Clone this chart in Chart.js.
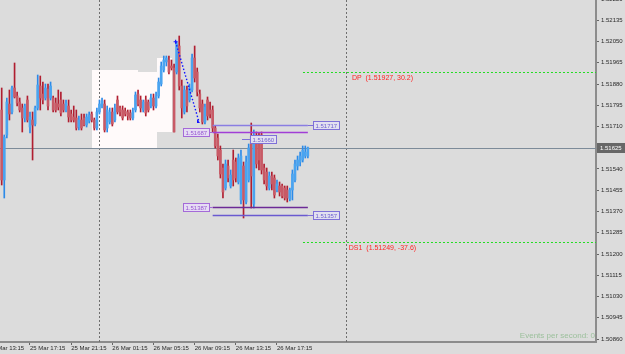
<!DOCTYPE html>
<html>
<head>
<meta charset="utf-8">
<script src="https://cdn.jsdelivr.net/npm/chart.js@4.4.1/dist/chart.umd.min.js"></script>
<style>
	html, body { margin: 0; padding: 0; background: #dcdcdc; }
	#chart { display: block; }
</style>
</head>
<body>
<canvas id="chart" width="625" height="354"></canvas>
<script>
(function () {
	'use strict';

	// M15 bars, bar 0 = 25 Mar 14:30
	const opens = [
		1.51776, 1.51496, 1.51676, 1.51800, 1.51768, 1.51864, 1.51832, 1.51808, 1.51784, 1.51744,
		1.51816, 1.51708, 1.51736, 1.51720, 1.51784, 1.51872, 1.51840, 1.51824, 1.51860, 1.51824,
		1.51824, 1.51804, 1.51800, 1.51816, 1.51800, 1.51772, 1.51792, 1.51760, 1.51748, 1.51744,
		1.51708, 1.51736, 1.51744, 1.51716, 1.51732, 1.51760, 1.51736, 1.51704, 1.51768, 1.51792,
		1.51800, 1.51704, 1.51728, 1.51768, 1.51736, 1.51816, 1.51784, 1.51776, 1.51772, 1.51768,
		1.51764, 1.51744, 1.51776, 1.51840, 1.51816, 1.51776, 1.51816, 1.51808, 1.51792, 1.51824,
		1.51792, 1.51832, 1.51880, 1.51936, 1.51968, 1.51976, 1.51952, 1.51944, 1.51928, 1.52032,
		1.51872, 1.51768, 1.51856, 1.51816, 1.51856, 1.51984, 1.51928, 1.51840, 1.51800, 1.51728,
		1.51816, 1.51776, 1.51776, 1.51704, 1.51664, 1.51616, 1.51544, 1.51464, 1.51552, 1.51472,
		1.51576, 1.51568, 1.51488, 1.51416, 1.51552, 1.51408, 1.51496, 1.51672, 1.51400, 1.51656,
		1.51648, 1.51676, 1.51544, 1.51528, 1.51464, 1.51512, 1.51504, 1.51456, 1.51472, 1.51472,
		1.51464, 1.51456, 1.51420, 1.51456, 1.51496, 1.51552, 1.51568, 1.51576, 1.51592, 1.51592
	];
	const highs = [
		1.51864, 1.51676, 1.51824, 1.51856, 1.51872, 1.51964, 1.51848, 1.51824, 1.51800, 1.51800,
		1.51832, 1.51768, 1.51768, 1.51792, 1.51916, 1.51912, 1.51888, 1.51880, 1.51880, 1.51888,
		1.51832, 1.51824, 1.51856, 1.51848, 1.51816, 1.51816, 1.51816, 1.51776, 1.51792, 1.51776,
		1.51752, 1.51760, 1.51760, 1.51760, 1.51768, 1.51768, 1.51744, 1.51784, 1.51816, 1.51824,
		1.51816, 1.51792, 1.51784, 1.51784, 1.51800, 1.51832, 1.51792, 1.51792, 1.51784, 1.51776,
		1.51776, 1.51784, 1.51848, 1.51856, 1.51832, 1.51816, 1.51832, 1.51816, 1.51840, 1.51840,
		1.51848, 1.51904, 1.51968, 1.51992, 1.51992, 1.51992, 1.51976, 1.51960, 1.52048, 1.52072,
		1.51896, 1.51872, 1.51872, 1.51880, 1.52000, 1.52032, 1.51944, 1.51856, 1.51816, 1.51800,
		1.51828, 1.51808, 1.51792, 1.51712, 1.51680, 1.51632, 1.51560, 1.51576, 1.51576, 1.51536,
		1.51616, 1.51584, 1.51600, 1.51616, 1.51568, 1.51592, 1.51640, 1.51724, 1.51696, 1.51688,
		1.51684, 1.51688, 1.51560, 1.51544, 1.51528, 1.51528, 1.51516, 1.51496, 1.51488, 1.51480,
		1.51472, 1.51472, 1.51464, 1.51536, 1.51576, 1.51592, 1.51608, 1.51632, 1.51632, 1.51628
	];
	const lows = [
		1.51476, 1.51424, 1.51664, 1.51736, 1.51760, 1.51824, 1.51792, 1.51768, 1.51688, 1.51728,
		1.51728, 1.51684, 1.51576, 1.51712, 1.51776, 1.51776, 1.51800, 1.51816, 1.51776, 1.51816,
		1.51768, 1.51768, 1.51776, 1.51752, 1.51768, 1.51768, 1.51728, 1.51728, 1.51728, 1.51696,
		1.51696, 1.51696, 1.51712, 1.51708, 1.51724, 1.51728, 1.51696, 1.51696, 1.51760, 1.51784,
		1.51688, 1.51688, 1.51720, 1.51712, 1.51728, 1.51760, 1.51752, 1.51736, 1.51752, 1.51736,
		1.51736, 1.51736, 1.51768, 1.51792, 1.51768, 1.51768, 1.51752, 1.51768, 1.51784, 1.51776,
		1.51784, 1.51824, 1.51872, 1.51928, 1.51952, 1.51920, 1.51936, 1.51688, 1.51920, 1.51856,
		1.51744, 1.51760, 1.51768, 1.51808, 1.51848, 1.51888, 1.51832, 1.51768, 1.51720, 1.51720,
		1.51736, 1.51744, 1.51688, 1.51624, 1.51576, 1.51504, 1.51424, 1.51456, 1.51488, 1.51464,
		1.51472, 1.51488, 1.51480, 1.51400, 1.51344, 1.51400, 1.51488, 1.51384, 1.51384, 1.51544,
		1.51536, 1.51520, 1.51480, 1.51456, 1.51456, 1.51456, 1.51424, 1.51448, 1.51432, 1.51424,
		1.51416, 1.51408, 1.51412, 1.51416, 1.51488, 1.51536, 1.51552, 1.51568, 1.51584, 1.51584
	];
	const closes = [
		1.51496, 1.51668, 1.51808, 1.51760, 1.51864, 1.51828, 1.51804, 1.51776, 1.51744, 1.51792,
		1.51736, 1.51748, 1.51716, 1.51784, 1.51876, 1.51824, 1.51816, 1.51864, 1.51792, 1.51872,
		1.51776, 1.51776, 1.51788, 1.51764, 1.51776, 1.51804, 1.51748, 1.51736, 1.51736, 1.51704,
		1.51736, 1.51704, 1.51716, 1.51748, 1.51756, 1.51736, 1.51704, 1.51768, 1.51800, 1.51812,
		1.51696, 1.51776, 1.51768, 1.51720, 1.51784, 1.51768, 1.51768, 1.51744, 1.51760, 1.51752,
		1.51744, 1.51768, 1.51836, 1.51800, 1.51784, 1.51808, 1.51764, 1.51776, 1.51824, 1.51792,
		1.51832, 1.51888, 1.51952, 1.51976, 1.51984, 1.51928, 1.51944, 1.51688, 1.52040, 1.51872,
		1.51784, 1.51856, 1.51792, 1.51864, 1.51984, 1.51904, 1.51848, 1.51784, 1.51728, 1.51788,
		1.51752, 1.51760, 1.51704, 1.51632, 1.51592, 1.51520, 1.51448, 1.51560, 1.51504, 1.51516,
		1.51496, 1.51504, 1.51584, 1.51592, 1.51416, 1.51568, 1.51624, 1.51512, 1.51664, 1.51560,
		1.51576, 1.51536, 1.51496, 1.51472, 1.51512, 1.51480, 1.51436, 1.51480, 1.51448, 1.51432,
		1.51424, 1.51424, 1.51456, 1.51520, 1.51560, 1.51576, 1.51592, 1.51616, 1.51608, 1.51625
	];

	// axis ticks
	const tickBars = [-5, 11, 27, 43, 59, 75, 91, 107];
	const timeLabels = ['25 Mar 13:15', '25 Mar 17:15', '25 Mar 21:15', '26 Mar 01:15',
		'26 Mar 05:15', '26 Mar 09:15', '26 Mar 13:15', '26 Mar 17:15'];
	const priceTicks = [1.50860, 1.50945, 1.51030, 1.51115, 1.51200, 1.51285, 1.51370, 1.51455,
		1.51540, 1.51625, 1.51710, 1.51795, 1.51880, 1.51965, 1.52050, 1.52135, 1.52220];

	// day separators (bar index)
	const separatorBars = [38, 134];

	// profile box (bar, price)
	const profileBars = [35.1, 53.0, 53.0, 60.4, 60.4, 66.2, 66.2, 60.4, 60.4, 35.1];
	const profilePrices = [1.51936, 1.51936, 1.51928, 1.51928, 1.51984, 1.51984, 1.51688, 1.51688, 1.51624, 1.51624];

	// dotted trend line
	const trendBars = [67.6, 76.7];
	const trendPrices = [1.52049, 1.51728];

	// price levels
	const levelPrices = [1.51717, 1.51687, 1.51387, 1.51357];
	const levelFromBar = 82;
	const levelToBar = 119;
	const markPrice = 1.51660;
	const markBar = 93.4;

	// pivots
	const pivotNames = ['DP', 'DS1'];
	const pivotPrices = [1.51927, 1.51249];
	const pivotScores = [30.2, -37.6];
	const pivotFromBar = 117.1;
	const pivotTextBar = 148;

	const FONT = '"Liberation Sans", Arial, sans-serif';
	Chart.defaults.font.family = FONT;
	Chart.defaults.font.size = 6;

	const isUp = closes.map(function(c, i) { return c >= opens[i]; });

	function drawBox(ctx, text, x, yc, s, alignRight) {
		ctx.font = '6px ' + FONT;
		const w = Math.round(ctx.measureText(text).width) + 5;
		const h = 9;
		const left = Math.round(alignRight ? x - w : x);
		const top = Math.round(yc - h / 2);
		ctx.fillStyle = s.fill;
		ctx.fillRect(left, top, w, h);
		ctx.strokeStyle = s.border;
		ctx.lineWidth = 1;
		ctx.strokeRect(left + 0.5, top + 0.5, w - 1, h - 1);
		ctx.fillStyle = s.text;
		ctx.textAlign = 'left';
		ctx.textBaseline = 'middle';
		ctx.fillText(text, left + 2.5, top + h / 2 + 0.5);
	}

	function hLine(ctx, x0, x1, y, color, width) {
		ctx.strokeStyle = color;
		ctx.lineWidth = width;
		ctx.beginPath();
		ctx.moveTo(x0, y);
		ctx.lineTo(x1, y);
		ctx.stroke();
	}

	const overlay = {
		id: 'overlay',
		beforeDraw: function(chart) {
			const ctx = chart.ctx;
			ctx.save();
			ctx.fillStyle = '#dcdcdc';
			ctx.fillRect(0, 0, chart.width, chart.height);
			ctx.restore();
		},
		beforeDatasetsDraw: function(chart) {
			const ctx = chart.ctx;
			const a = chart.chartArea;
			const x = chart.scales.x;
			const y = chart.scales.y;
			ctx.save();
			ctx.beginPath();
			ctx.rect(a.left, a.top, a.right - a.left, a.bottom - a.top);
			ctx.clip();

			// profile area
			ctx.fillStyle = '#fffafa';
			ctx.beginPath();
			profileBars.forEach(function(b, i) {
				const px = Math.round(x.getPixelForValue(b));
				const py = Math.round(y.getPixelForValue(profilePrices[i]));
				if (i === 0) { ctx.moveTo(px, py); } else { ctx.lineTo(px, py); }
			});
			ctx.closePath();
			ctx.fill();

			// separators
			ctx.strokeStyle = '#6e6e6e';
			ctx.lineWidth = 1;
			ctx.setLineDash([2, 2]);
			separatorBars.forEach(function(b) {
				const px = Math.round(x.getPixelForValue(b)) + 0.5;
				ctx.beginPath();
				ctx.moveTo(px, a.top);
				ctx.lineTo(px, a.bottom);
				ctx.stroke();
			});
			ctx.setLineDash([]);

			// bid line
			const by = Math.round(y.getPixelForValue(closes[closes.length - 1])) + 0.5;
			hLine(ctx, a.left, a.right, by, '#7d8b99', 1);
			ctx.restore();
		},
		afterDatasetsDraw: function(chart) {
			const ctx = chart.ctx;
			const a = chart.chartArea;
			const x = chart.scales.x;
			const y = chart.scales.y;
			ctx.save();
			ctx.beginPath();
			ctx.rect(a.left, a.top, a.right - a.left, a.bottom - a.top);
			ctx.clip();

			// trend line
			const tx0 = x.getPixelForValue(trendBars[0]);
			const ty0 = y.getPixelForValue(trendPrices[0]);
			const tx1 = x.getPixelForValue(trendBars[1]);
			const ty1 = y.getPixelForValue(trendPrices[1]);
			ctx.strokeStyle = '#1414ff';
			ctx.lineWidth = 1.4;
			ctx.setLineDash([1.5, 2]);
			ctx.beginPath();
			ctx.moveTo(tx0, ty0);
			ctx.lineTo(tx1, ty1);
			ctx.stroke();
			ctx.setLineDash([]);
			ctx.lineWidth = 1.2;
			ctx.beginPath();
			ctx.moveTo(tx0 - 2, ty0); ctx.lineTo(tx0 + 2, ty0);
			ctx.moveTo(tx0, ty0 - 2); ctx.lineTo(tx0, ty0 + 2);
			ctx.stroke();
			ctx.fillStyle = '#1414ff';
			ctx.beginPath();
			ctx.moveTo(tx1 - 2, ty1 - 3);
			ctx.lineTo(tx1 + 1, ty1 + 1);
			ctx.lineTo(tx1 - 2, ty1 + 1);
			ctx.closePath();
			ctx.fill();

			// levels
			const styles = [
				{line: '#8a7ee2', side: 'right', fill: '#e2e0f0', border: '#7e70d8', text: '#6e60d0'},
				{line: '#a13ed6', side: 'left', fill: '#e6dcf4', border: '#a46ad8', text: '#9656d0'},
				{line: '#6c2a96', side: 'left', fill: '#e6dcf4', border: '#a46ad8', text: '#9656d0'},
				{line: '#6a5ad0', side: 'right', fill: '#e2e0f0', border: '#7e70d8', text: '#6e60d0'}
			];
			const lx0 = x.getPixelForValue(levelFromBar);
			const lx1 = x.getPixelForValue(levelToBar);
			levelPrices.forEach(function(p, i) {
				const s = styles[i];
				const ly = Math.round(y.getPixelForValue(p)) + 0.5;
				hLine(ctx, lx0, lx1, ly, s.line, 1.5);
				if (s.side === 'right') {
					hLine(ctx, lx1, lx1 + 6, ly, s.border, 1);
					drawBox(ctx, p.toFixed(5), lx1 + 5, ly, s, false);
				} else {
					hLine(ctx, lx0 - 4, lx0, ly, s.border, 1);
					drawBox(ctx, p.toFixed(5), lx0 - 3, ly, s, true);
				}
			});
			const mx = x.getPixelForValue(markBar);
			const my = Math.round(y.getPixelForValue(markPrice)) + 0.5;
			hLine(ctx, mx, mx + 8, my, '#7e70d8', 1);
			drawBox(ctx, markPrice.toFixed(5), mx + 8, my, styles[0], false);

			// pivots
			ctx.font = '7px ' + FONT;
			ctx.textAlign = 'center';
			ctx.textBaseline = 'middle';
			pivotPrices.forEach(function(p, i) {
				const py = Math.round(y.getPixelForValue(p)) + 0.5;
				ctx.strokeStyle = '#22dd22';
				ctx.lineWidth = 1;
				ctx.setLineDash([2, 2]);
				ctx.beginPath();
				ctx.moveTo(x.getPixelForValue(pivotFromBar), py);
				ctx.lineTo(a.right, py);
				ctx.stroke();
				ctx.setLineDash([]);
				ctx.fillStyle = '#ff2424';
				ctx.fillText(pivotNames[i] + '  (' + p.toFixed(5) + ', ' + pivotScores[i].toFixed(1) + ')',
					x.getPixelForValue(pivotTextBar), py + 5.5);
			});

			// status text
			ctx.font = '8px ' + FONT;
			ctx.textAlign = 'right';
			ctx.fillStyle = '#9cc09c';
			ctx.fillText('Events per second: 0', a.right - 1, a.bottom - 6);
			ctx.restore();
		},
		afterDraw: function(chart) {
			const ctx = chart.ctx;
			const a = chart.chartArea;
			const y = chart.scales.y;
			const last = closes[closes.length - 1];
			const py = Math.round(y.getPixelForValue(last));
			ctx.save();
			ctx.fillStyle = '#676767';
			ctx.fillRect(a.right + 1, py - 5, chart.width - a.right - 1, 10);
			ctx.font = '6px ' + FONT;
			ctx.fillStyle = '#ffffff';
			ctx.textAlign = 'left';
			ctx.textBaseline = 'middle';
			ctx.fillText(last.toFixed(5), a.right + 4, py + 0.5);
			ctx.restore();
		}
	};

	new Chart(document.getElementById('chart'), {
		type: 'bar',
		data: {
			datasets: [
				{
					label: 'body',
					data: opens.map(function(o, i) { return {x: i, y: [o, closes[i]]}; }),
					backgroundColor: isUp.map(function(u) { return u ? '#4aa4f0' : '#c85a66'; }),
					borderWidth: 0,
					barThickness: 2,
					grouped: false,
					order: 0
				},
				{
					label: 'wick',
					data: highs.map(function(h, i) { return {x: i, y: [lows[i], h]}; }),
					backgroundColor: isUp.map(function(u) { return u ? '#2c8ae8' : '#b01e30'; }),
					borderWidth: 0,
					barThickness: 1,
					grouped: false,
					order: 1
				}
			]
		},
		options: {
			responsive: false,
			animation: false,
			devicePixelRatio: 1,
			layout: { padding: 0 },
			plugins: {
				legend: { display: false },
				tooltip: { enabled: false }
			},
			scales: {
				x: {
					type: 'linear',
					min: -0.66,
					max: 231,
					offset: false,
					afterBuildTicks: function(s) {
						s.ticks = tickBars.map(function(v) { return {value: v}; });
					},
					afterFit: function(s) {
						s.height = 12;
						s.paddingLeft = 0;
						s.paddingRight = 0;
					},
					ticks: {
						autoSkip: false,
						maxRotation: 0,
						minRotation: 0,
						align: 'start',
						padding: 0,
						color: '#2a2a2a',
						font: { size: 6 },
						callback: function(v) { return timeLabels[tickBars.indexOf(v)]; }
					},
					grid: { drawOnChartArea: false, offset: false, tickLength: 3, color: '#666666' },
					border: { color: '#8c8c8c', width: 2 }
				},
				y: {
					type: 'linear',
					position: 'right',
					min: 1.50848,
					max: 1.52216,
					afterBuildTicks: function(s) {
						s.ticks = priceTicks.map(function(v) { return {value: v}; });
					},
					afterFit: function(s) {
						s.width = 29;
						s.paddingTop = 0;
						s.paddingBottom = 0;
					},
					ticks: {
						autoSkip: false,
						padding: 2,
						color: '#2a2a2a',
						font: { size: 6 },
						callback: function(v) { return v.toFixed(5); }
					},
					grid: { drawOnChartArea: false, tickLength: 3, color: '#666666' },
					border: { color: '#8c8c8c', width: 2 }
				}
			}
		},
		plugins: [overlay]
	});
})();
</script>
</body>
</html>
